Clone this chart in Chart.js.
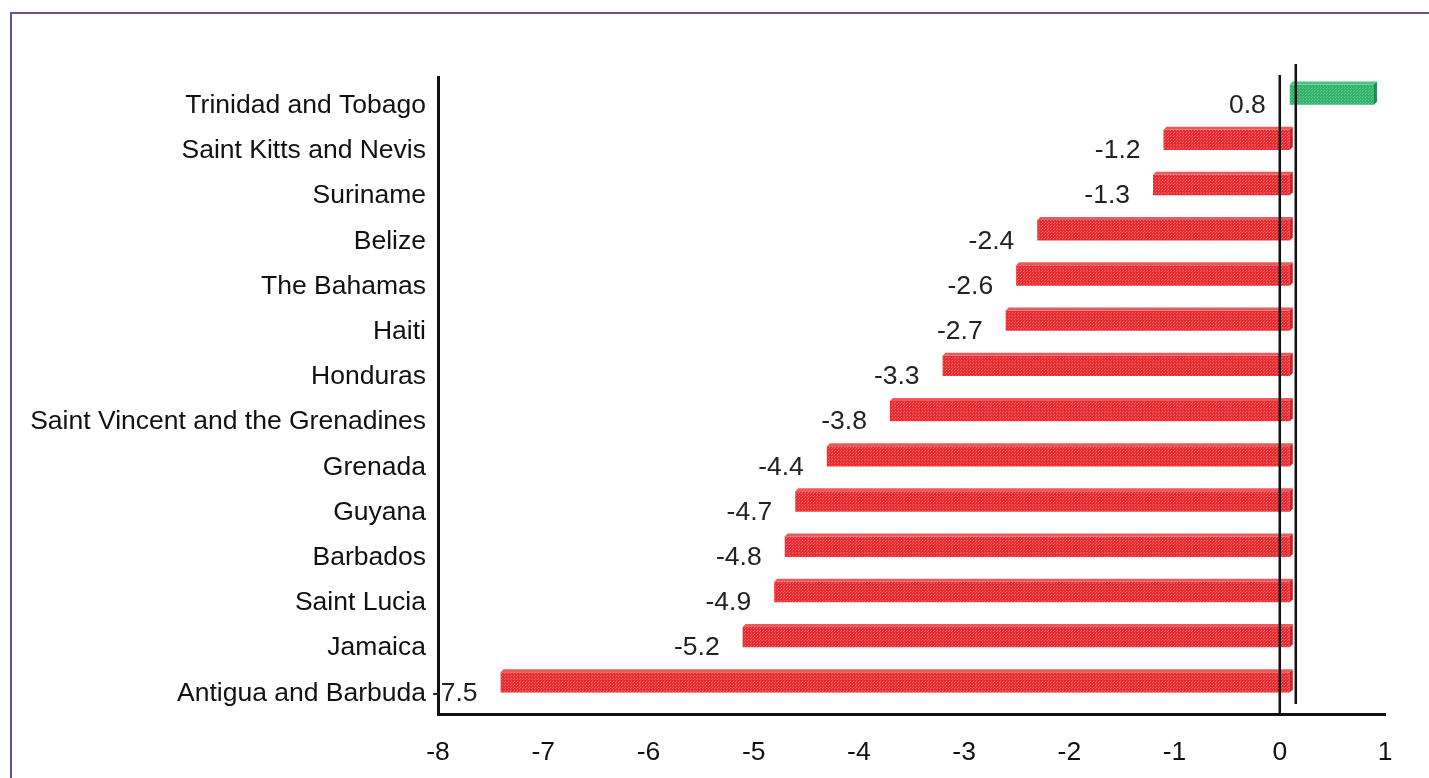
<!DOCTYPE html>
<html>
<head>
<meta charset="utf-8">
<script src="https://cdn.jsdelivr.net/npm/chart.js@4"></script>
<style>
  html, body { margin: 0; padding: 0; background: #fff; overflow: hidden; }
  #frame { position: absolute; left: 10px; top: 12px; width: 1500px; height: 900px; border: 2px solid #6b4f8a; box-sizing: border-box; }
  #wrap { position: absolute; left: 0; top: 0; width: 1429px; height: 778px; }
</style>
</head>
<body>
<div id="frame"></div>
<div id="wrap"><canvas id="myChart"></canvas></div>
<script>
// countries, top to bottom
let countries = ["Trinidad and Tobago", "Saint Kitts and Nevis", "Suriname", "Belize", "The Bahamas", "Haiti", "Honduras",
  "Saint Vincent and the Grenadines", "Grenada", "Guyana", "Barbados", "Saint Lucia", "Jamaica", "Antigua and Barbuda"];
let values = [0.8, -1.2, -1.3, -2.4, -2.6, -2.7, -3.3, -3.8, -4.4, -4.7, -4.8, -4.9, -5.2, -7.5];
let xTicks = [-8, -7, -6, -5, -4, -3, -2, -1, 0, 1];

const FONT = "'Liberation Sans', Arial, sans-serif";
const FSIZE = 26.5;

// little dotted texture like the original bars
function makePattern(base, dot) {
  let c = document.createElement("canvas");
  c.width = 3; c.height = 3;
  let g = c.getContext("2d");
  g.fillStyle = base;
  g.fillRect(0, 0, 3, 3);
  g.fillStyle = dot;
  g.fillRect(0, 0, 1, 1);
  g.fillRect(2, 1, 1, 1);
  return g.createPattern(c, "repeat");
}
let redFill = makePattern("#ea2d33", "#f46064");
let greenFill = makePattern("#34b26b", "#5ac889");

let depth = 3;
let shiftX = 10, shiftY = -9;

const bars3d = {
  id: "bars3d",
  beforeDatasetsDraw(chart) {
    chart.ctx.save();
    chart.ctx.translate(shiftX, shiftY);
  },
  afterDatasetsDraw(chart) {
    let ctx = chart.ctx;
    let meta = chart.getDatasetMeta(0);
    meta.data.forEach((bar, i) => {
      let left = Math.min(bar.x, bar.base);
      let right = Math.max(bar.x, bar.base);
      let top = bar.y - bar.height / 2;
      let bottom = bar.y + bar.height / 2;
      let dark = values[i] >= 0 ? "#1f8a4e" : "#c4242a";
      let light = values[i] >= 0 ? "#4cc283" : "#e85a5e";
      ctx.fillStyle = light;
      ctx.beginPath();
      ctx.moveTo(left, top);
      ctx.lineTo(left + depth, top - depth);
      ctx.lineTo(right + depth, top - depth);
      ctx.lineTo(right, top);
      ctx.closePath();
      ctx.fill();
      ctx.fillStyle = dark;
      ctx.beginPath();
      ctx.moveTo(right, top);
      ctx.lineTo(right + depth, top - depth);
      ctx.lineTo(right + depth, bottom - depth);
      ctx.lineTo(right, bottom);
      ctx.closePath();
      ctx.fill();
    });
    ctx.restore();

    // value labels, left of each bar
    let xs = chart.scales.x;
    let ys = chart.scales.y;
    ctx.save();
    ctx.font = FSIZE + "px " + FONT;
    ctx.fillStyle = "#222";
    ctx.textAlign = "right";
    ctx.textBaseline = "middle";
    values.forEach((v, i) => {
      let px = xs.getPixelForValue(Math.min(v, 0));
      let py = ys.getPixelForValue(i);
      ctx.fillText(v.toFixed(1), px - (v >= 0 ? 14 : 13), py + 2);
    });

    // zero line, the back wall line, y axis running a bit above the area
    let zx = xs.getPixelForValue(0);
    let area = chart.chartArea;
    ctx.strokeStyle = "#111";
    ctx.lineWidth = 2.5;
    ctx.beginPath();
    ctx.moveTo(zx, area.top - 6);
    ctx.lineTo(zx, area.bottom);
    ctx.stroke();
    ctx.beginPath();
    ctx.moveTo(zx + 16, area.top - 17);
    ctx.lineTo(zx + 16, area.bottom - 10);
    ctx.stroke();
    ctx.lineWidth = 3;
    ctx.beginPath();
    ctx.moveTo(area.left + 0.5, area.top - 5);
    ctx.lineTo(area.left + 0.5, area.top + 2);
    ctx.stroke();
    ctx.restore();
  }
};

const data = {
  labels: countries,
  datasets: [{
    data: values,
    backgroundColor: values.map(v => v >= 0 ? greenFill : redFill),
    borderWidth: 0,
    barPercentage: 0.45,
    categoryPercentage: 1
  }]
};

const config = {
  type: "bar",
  data: data,
  options: {
    indexAxis: "y",
    responsive: false,
    animation: false,
    layout: { padding: { top: 81, right: 44, left: 0, bottom: 0 } },
    plugins: { legend: { display: false }, tooltip: { enabled: false } },
    scales: {
      x: {
        min: -8,
        max: 1,
        afterBuildTicks: (scale) => { scale.ticks = xTicks.map(v => ({ value: v })); },
        grid: { display: false, drawTicks: false },
        border: { color: "#111", width: 3 },
        ticks: { color: "#111", font: { family: FONT, size: FSIZE }, padding: 23 },
        afterFit: (scale) => { scale.height = 64; }
      },
      y: {
        grid: { display: false, drawTicks: false },
        border: { color: "#111", width: 3 },
        ticks: { color: "#111", font: { family: FONT, size: FSIZE }, padding: 12, labelOffset: 2 },
        afterFit: (scale) => { scale.width = 438; }
      }
    }
  },
  plugins: [bars3d]
};

let canvasChart = document.getElementById("myChart");
canvasChart.width = 1429;
canvasChart.height = 778;
new Chart(canvasChart, config);
</script>
</body>
</html>
